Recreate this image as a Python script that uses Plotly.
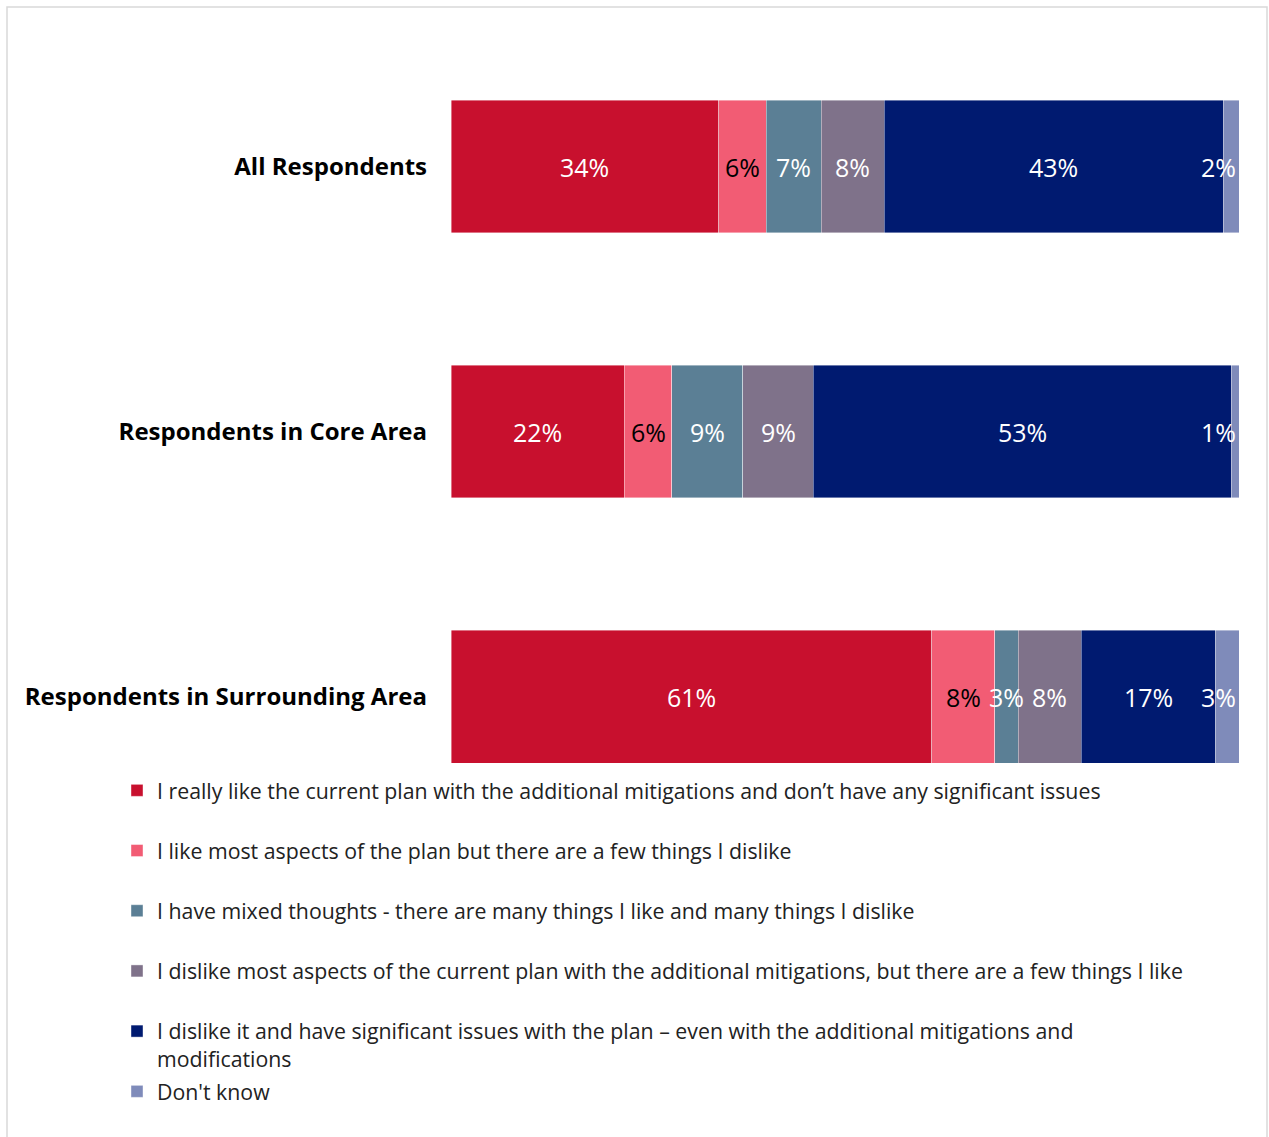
import plotly.graph_objects as go

categories = ["All Respondents", "Respondents in Core Area", "Respondents in Surrounding Area"]

series_names = [
    "I really like the current plan with the additional mitigations and don’t have any significant issues",
    "I like most aspects of the plan but there are a few things I dislike",
    "I have mixed thoughts - there are many things I like and many things I dislike",
    "I dislike most aspects of the current plan with the additional mitigations, but there are a few things I like",
    "I dislike it and have significant issues with the plan – even with the additional mitigations and<br>modifications",
    "Don't know",
]

really_like = [34, 22, 61]
like_most = [6, 6, 8]
mixed = [7, 9, 3]
dislike_most = [8, 9, 8]
dislike_it = [43, 53, 17]
dont_know = [2, 1, 3]

values = [really_like, like_most, mixed, dislike_most, dislike_it, dont_know]
colors = ["#C8102E", "#F25C74", "#5B7F95", "#7F728A", "#001A70", "#7F8BBA"]
text_colors = ["white", "black", "white", "white", "white", "white"]

W, H = 1269, 1137
ML, MR, MT, MB = 451, 30, 34, 374
PW = W - ML - MR
PH = H - MT - MB

def px_x(p):
    return (p - ML) / PW

def px_y(p):
    return (H - MB - p) / PH

fig = go.Figure()
for i, (name, vals) in enumerate(zip(series_names, values)):
    last = i == len(values) - 1
    fig.add_trace(go.Bar(
        y=categories,
        x=vals,
        name=name,
        orientation="h",
        width=0.5,
        marker=dict(color=colors[i], line=dict(color="rgba(255,255,255,0.55)", width=0.75)),
        text=[f"{v}%" for v in vals] if last else None,
        textposition="inside" if last else "none",
        insidetextanchor="end",
        textangle=0,
        textfont=dict(family="Open Sans", size=25, color=text_colors[i]),
        cliponaxis=False,
        legendgroup=f"g{i}",
        legend="legend2" if last else "legend",
        hoverinfo="skip",
    ))

# data labels for the other segments, drawn above all bars
annotations = []
cum = [0, 0, 0]
for i, vals in enumerate(values):
    mids = [c + v / 2 for c, v in zip(cum, vals)]
    cum = [c + v for c, v in zip(cum, vals)]
    if i == len(values) - 1:
        continue
    for cat, m, v in zip(categories, mids, vals):
        annotations.append(dict(
            x=m, y=cat, xref="x", yref="y", text=f"{v}%", showarrow=False,
            xanchor="center", yanchor="middle",
            font=dict(family="Open Sans", size=25, color=text_colors[i]),
        ))

fig.update_layout(
    width=W,
    height=H,
    margin=dict(l=ML, r=MR, t=MT, b=MB, pad=0),
    barmode="stack",
    paper_bgcolor="white",
    plot_bgcolor="white",
    font=dict(family="Open Sans", color="#222222"),
    uniformtext=dict(minsize=25, mode="show"),
    showlegend=True,
    annotations=annotations,
    xaxis=dict(range=[0, 100], visible=False, fixedrange=True),
    yaxis=dict(
        range=[2.25, -0.5],
        showgrid=False,
        zeroline=False,
        showline=False,
        ticks="",
        ticklabelstandoff=23,
        tickfont=dict(family="Open Sans", size=24, color="black", weight="bold"),
        categoryorder="array",
        categoryarray=categories,
        fixedrange=True,
    ),
    legend=dict(
        x=px_x(117), y=px_y(770), xanchor="left", yanchor="top",
        orientation="v",
        font=dict(family="Open Sans", size=21.3, color="#222222"),
        tracegroupgap=29.5,
        bgcolor="rgba(0,0,0,0)",
        traceorder="grouped",
        valign="top",
    ),
    legend2=dict(
        x=px_x(117), y=px_y(1071), xanchor="left", yanchor="top",
        orientation="v",
        font=dict(family="Open Sans", size=21.3, color="#222222"),
        bgcolor="rgba(0,0,0,0)",
    ),
    shapes=[
        dict(type="rect", xref="paper", yref="paper",
             x0=px_x(7), x1=px_x(1267), y0=px_y(1140), y1=px_y(7),
             line=dict(color="#D9D9D9", width=1.5), fillcolor="rgba(0,0,0,0)", layer="below"),
    ],
)

fig.write_html("out.html", config={"displayModeBar": False},
               post_script="document.body.style.margin='0px';")
